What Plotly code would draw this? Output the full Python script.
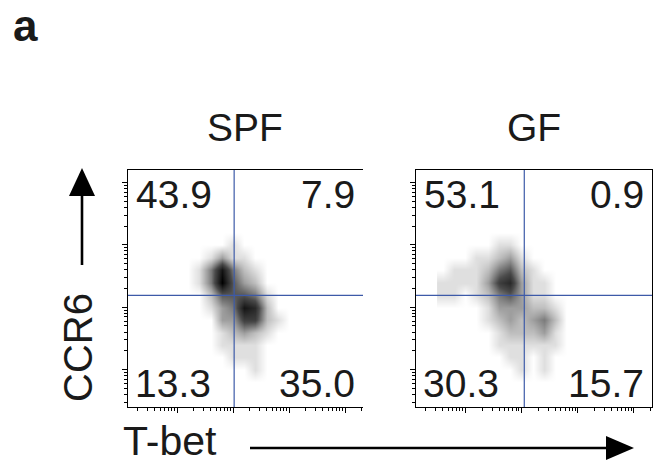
import numpy as np
import plotly.graph_objects as go

# Fluorescence in decade units (log10 intensity); grid of cell-density estimates
x_dec = [1.6, 1.8, 2.0, 2.2, 2.4, 2.6, 2.8, 3.0, 3.2, 3.4, 3.6, 3.8, 4.0, 4.2, 4.4]
y_dec = [1.6, 1.8, 2.0, 2.2, 2.4, 2.6, 2.8, 3.0, 3.2, 3.4, 3.6, 3.8, 4.0, 4.2, 4.4]

# rows follow y_dec (bottom to top), columns follow x_dec
spf_density = [
    [0, 0, 0, 0, 0, 0, 0, 0, 0, 0, 0, 0, 0, 0, 0],
    [0, 0, 0, 0, 0, 0, 0, 0, 0, 0, 0, 0, 0, 0, 0],
    [0, 0, 0, 0, 0, 0, 0, 0, 0, 1, 0, 0, 0, 0, 0],
    [0, 0, 0, 0, 0, 0, 0, 1, 1, 1, 0, 0, 0, 0, 0],
    [0, 0, 0, 0, 0, 0, 1, 1, 1, 1, 0, 0, 0, 0, 0],
    [0, 0, 0, 0, 0, 0, 1, 2, 3, 2, 1, 0, 0, 0, 0],
    [0, 0, 0, 0, 0, 0, 3, 3, 6, 6, 2, 1, 0, 0, 0],
    [0, 0, 0, 0, 0, 1, 3, 4, 8, 7, 2, 0, 0, 0, 0],
    [0, 0, 0, 0, 0, 2, 5, 5, 5, 4, 1, 0, 0, 0, 0],
    [0, 0, 0, 0, 1, 4, 9, 5, 3, 2, 0, 0, 0, 0, 0],
    [0, 0, 0, 0, 1, 4, 8, 4, 2, 1, 0, 0, 0, 0, 0],
    [0, 0, 0, 0, 0, 1, 3, 1, 1, 0, 0, 0, 0, 0, 0],
    [0, 0, 0, 0, 0, 0, 0, 1, 0, 0, 0, 0, 0, 0, 0],
    [0, 0, 0, 0, 0, 0, 0, 0, 0, 0, 0, 0, 0, 0, 0],
    [0, 0, 0, 0, 0, 0, 0, 0, 0, 0, 0, 0, 0, 0, 0],
]

gf_density = [
    [0, 0, 0, 0, 0, 0, 0, 0, 0, 0, 0, 0, 0, 0, 0],
    [0, 0, 0, 0, 0, 0, 0, 0, 0, 0, 0, 0, 0, 0, 0],
    [0, 0, 0, 0, 0, 0, 0, 1, 0, 1, 0, 0, 0, 0, 0],
    [0, 0, 0, 0, 0, 0, 1, 1, 0, 1, 0, 0, 0, 0, 0],
    [0, 0, 0, 0, 0, 1, 1, 1, 1, 1, 1, 0, 0, 0, 0],
    [0, 0, 0, 0, 0, 1, 2, 2, 2, 3, 1, 0, 0, 0, 0],
    [0, 0, 0, 0, 1, 2, 3, 2, 3, 4, 2, 0, 0, 0, 0],
    [0, 0, 0, 0, 1, 3, 3, 3, 2, 2, 1, 0, 0, 0, 0],
    [1, 1, 0, 1, 2, 4, 5, 3, 1, 1, 0, 0, 0, 0, 0],
    [1, 1, 1, 1, 3, 6, 7, 3, 1, 1, 0, 0, 0, 0, 0],
    [0, 1, 1, 1, 2, 4, 5, 2, 1, 0, 0, 0, 0, 0, 0],
    [0, 0, 0, 1, 1, 2, 3, 1, 0, 0, 0, 0, 0, 0, 0],
    [0, 0, 0, 0, 0, 1, 1, 0, 0, 0, 0, 0, 0, 0, 0],
    [0, 0, 0, 0, 0, 0, 0, 0, 0, 0, 0, 0, 0, 0, 0],
    [0, 0, 0, 0, 0, 0, 0, 0, 0, 0, 0, 0, 0, 0, 0],
]

panel_names = ["SPF", "GF"]
# quadrant frequencies: upper-left, upper-right, lower-left, lower-right
quadrants = {
    "SPF": ["43.9", "7.9", "13.3", "35.0"],
    "GF": ["53.1", "0.9", "30.3", "15.7"],
}
gates = {"SPF": (3.02, 3.19), "GF": (3.05, 3.19)}

x_range = [1.125, 5.32]
y_range = [1.40, 5.20]

major = [1, 2, 3, 4, 5]
minor = [d + np.log10(k) for d in range(1, 6) for k in range(2, 10)]

FONT = "Liberation Sans, Arial, sans-serif"
TEXT = "#1a1a1a"
GATE_BLUE = "#3d5aa8"

fig = go.Figure()

gray = [[0.0, "#ffffff"], [0.1, "#e2e2e2"], [0.3, "#a8a8a8"],
        [0.6, "#4a4a4a"], [1.0, "#000000"]]

doms = [(0.1954, 0.5542), (0.6351, 0.9954)]
ydom = (0.1247, 0.6344)

for i, (name, dens) in enumerate(zip(panel_names, [spf_density, gf_density])):
    xa = "x" if i == 0 else "x2"
    ya = "y" if i == 0 else "y2"
    fig.add_trace(go.Heatmap(
        x=x_dec, y=y_dec, z=dens, zmin=0, zmax=9, zsmooth="best",
        colorscale=gray, showscale=False, hoverinfo="skip",
        xaxis=xa, yaxis=ya))

    ax_common = dict(
        showgrid=False, zeroline=False, showticklabels=False,
        showline=True, linecolor="black", linewidth=1,
        ticks="outside", ticklen=5, tickwidth=1, tickcolor="black",
        tickmode="array", tickvals=major,
        minor=dict(tickmode="array", tickvals=minor, ticks="outside",
                   ticklen=3, tickwidth=1, tickcolor="black", showgrid=False),
    )
    xkey = "xaxis" if i == 0 else "xaxis2"
    ykey = "yaxis" if i == 0 else "yaxis2"
    fig.update_layout(**{
        xkey: dict(domain=list(doms[i]), range=x_range, anchor=ya,
                   mirror=True, **ax_common),
        ykey: dict(domain=list(ydom), range=y_range, anchor=xa,
                   mirror=(i == 1), **ax_common),
    })

    gx, gy = gates[name]
    fig.add_shape(type="line", xref=xa, yref=f"{ya} domain", x0=gx, x1=gx,
                  y0=0, y1=1, line=dict(color=GATE_BLUE, width=1.2))
    fig.add_shape(type="line", xref=f"{xa} domain", yref=ya, x0=0, x1=1,
                  y0=gy, y1=gy, line=dict(color=GATE_BLUE, width=1.2))

    ul, ur, ll, lr = quadrants[name]
    for txt, xx, yy, xan, yan in [
        (ul, 0.025, 0.995, "left", "top"),
        (ur, 0.975, 0.995, "right", "top"),
        (ll, 0.02, 0.0, "left", "bottom"),
        (lr, 0.975, 0.0, "right", "bottom"),
    ]:
        fig.add_annotation(text=txt, xref=f"{xa} domain", yref=f"{ya} domain",
                           x=xx, y=yy, xanchor=xan, yanchor=yan, showarrow=False,
                           font=dict(family=FONT, size=39, color=TEXT))

    fig.add_annotation(text=name, xref="paper", yref="paper",
                       x=sum(doms[i]) / 2, y=1 - 127 / 465, xanchor="center",
                       yanchor="middle", showarrow=False,
                       font=dict(family=FONT, size=39, color=TEXT))

W, H = 655, 465


def px(x):
    return x / W


def py(y):
    return 1 - y / H


# panel letter
fig.add_annotation(text="<b>a</b>", xref="paper", yref="paper", x=px(12), y=1.0,
                   xanchor="left", yanchor="top", showarrow=False, borderpad=0,
                   font=dict(family="Liberation Sans, Arial, sans-serif",
                             size=44, color=TEXT))

# axis names with direction arrows
fig.add_annotation(text="CCR6", xref="paper", yref="paper", x=px(78), y=py(348),
                   textangle=-90, showarrow=False, xanchor="center", yanchor="middle",
                   font=dict(family=FONT, size=40, color=TEXT))
fig.add_annotation(text="T-bet", xref="paper", yref="paper", x=px(170), y=py(441),
                   showarrow=False, xanchor="center", yanchor="middle",
                   font=dict(family=FONT, size=41, color=TEXT))

fig.add_shape(type="line", xref="paper", yref="paper", x0=px(82), x1=px(82),
              y0=py(265), y1=py(192), line=dict(color="black", width=2.6))
fig.add_shape(type="path", xref="paper", yref="paper",
              path=f"M {px(69)},{py(196)} L {px(82)},{py(168)} L {px(95)},{py(196)} Z",
              fillcolor="black", line=dict(color="black", width=0))
fig.add_shape(type="line", xref="paper", yref="paper", x0=px(250), x1=px(610),
              y0=py(448), y1=py(448), line=dict(color="black", width=2.6))
fig.add_shape(type="path", xref="paper", yref="paper",
              path=f"M {px(606)},{py(436)} L {px(634)},{py(448)} L {px(606)},{py(460)} Z",
              fillcolor="black", line=dict(color="black", width=0))

fig.update_layout(width=W, height=H, margin=dict(l=0, r=0, t=0, b=0),
                  paper_bgcolor="white", plot_bgcolor="white", showlegend=False)

fig.write_html("out.html")
